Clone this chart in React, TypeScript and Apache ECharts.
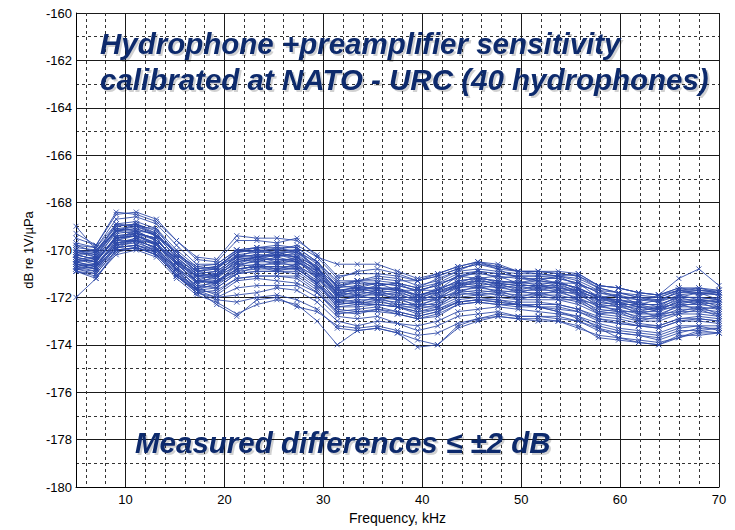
import React, { useEffect, useRef } from "react";
import * as echarts from "echarts";

// Frequency points (kHz)
const frequencies = [5, 7.03, 9.06, 11.09, 13.13, 15.16, 17.19, 19.22, 21.25, 23.28, 25.31, 27.34, 29.38, 31.41, 33.44, 35.47, 37.5, 39.53, 41.56, 43.59, 45.63, 47.66, 49.69, 51.72, 53.75, 55.78, 57.81, 59.84, 61.88, 63.91, 65.94, 67.97, 70];

// Sensitivity (dB re 1V/µPa) of each hydrophone
const h01 = [-169.7,-169.9,-168.7,-168.6,-168.9,-169.8,-170.6,-170.6,-170.0,-169.9,-169.8,-169.9,-170.5,-171.3,-171.3,-171.1,-171.2,-171.5,-171.3,-170.9,-170.8,-170.9,-171.0,-171.0,-171.1,-171.2,-171.6,-171.8,-171.9,-172.0,-171.7,-171.6,-171.8];
const h02 = [-169.9,-170.0,-169.0,-168.9,-169.2,-170.1,-170.8,-170.7,-170.1,-170.0,-170.0,-170.0,-170.6,-171.5,-171.4,-171.4,-171.5,-171.7,-171.5,-171.1,-171.0,-171.1,-171.2,-171.2,-171.2,-171.4,-171.8,-171.9,-172.1,-172.1,-171.8,-171.8,-171.9];
const h03 = [-170.2,-170.1,-169.2,-169.1,-169.4,-170.3,-171.0,-170.9,-170.3,-170.2,-170.3,-170.1,-170.8,-171.7,-171.6,-171.6,-171.6,-171.9,-171.7,-171.3,-171.2,-171.3,-171.4,-171.3,-171.4,-171.6,-172.0,-172.1,-172.3,-172.3,-172.0,-172.0,-172.1];
const h04 = [-170.3,-170.5,-169.4,-169.3,-169.5,-170.5,-171.2,-171.1,-170.5,-170.4,-170.4,-170.5,-171.0,-171.9,-171.8,-171.8,-171.9,-172.1,-171.9,-171.5,-171.4,-171.5,-171.6,-171.6,-171.6,-171.8,-172.2,-172.3,-172.5,-172.5,-172.2,-172.2,-172.3];
const h05 = [-170.6,-170.6,-169.7,-169.5,-169.8,-170.7,-171.4,-171.3,-170.7,-170.6,-170.6,-170.6,-171.2,-172.1,-172.0,-172.0,-172.1,-172.3,-172.1,-171.7,-171.6,-171.7,-171.8,-171.8,-171.8,-172.0,-172.4,-172.5,-172.7,-172.7,-172.4,-172.4,-172.5];
const h06 = [-170.7,-170.8,-169.8,-169.7,-170.0,-170.9,-171.6,-171.5,-170.9,-170.8,-170.8,-170.8,-171.4,-172.3,-172.2,-172.2,-172.3,-172.5,-172.3,-171.9,-171.8,-171.9,-172.0,-172.0,-172.0,-172.2,-172.6,-172.7,-172.9,-172.9,-172.6,-172.6,-172.7];
const h07 = [-170.1,-170.3,-169.3,-169.2,-169.6,-170.4,-171.1,-171.0,-170.4,-170.3,-170.2,-170.3,-170.9,-171.8,-171.7,-171.7,-171.8,-172.0,-171.8,-171.4,-171.3,-171.4,-171.5,-171.5,-171.5,-171.7,-172.1,-172.2,-172.4,-172.4,-172.1,-172.1,-172.2];
const h08 = [-170.4,-170.5,-169.5,-169.4,-169.7,-170.6,-171.3,-171.2,-170.6,-170.5,-170.5,-170.5,-171.1,-172.0,-171.9,-171.9,-172.0,-172.2,-172.0,-171.6,-171.5,-171.6,-171.7,-171.7,-171.7,-171.9,-172.3,-172.4,-172.6,-172.6,-172.3,-172.3,-172.4];
const h09 = [-170.0,-170.2,-169.1,-169.0,-169.3,-170.2,-170.9,-170.8,-170.2,-170.1,-170.1,-170.1,-170.7,-171.6,-171.5,-171.4,-171.5,-171.7,-171.5,-171.1,-170.9,-171.0,-171.1,-171.1,-171.2,-171.4,-171.8,-172.0,-172.1,-172.2,-171.9,-171.8,-171.9];
const h10 = [-170.6,-170.7,-169.7,-169.6,-169.9,-170.8,-171.5,-171.4,-170.8,-170.7,-170.7,-170.7,-171.3,-172.2,-172.1,-172.1,-172.2,-172.4,-172.2,-171.8,-171.7,-171.8,-171.9,-171.9,-171.9,-172.1,-172.5,-172.6,-172.8,-172.8,-172.5,-172.5,-172.6];
const h11 = [-169.8,-169.9,-168.9,-168.8,-169.1,-170.0,-170.7,-170.6,-170.0,-169.9,-169.9,-169.9,-170.5,-171.4,-171.3,-171.3,-171.4,-171.6,-171.4,-171.0,-170.9,-171.0,-171.1,-171.1,-171.1,-171.3,-171.7,-171.8,-172.0,-172.0,-171.7,-171.7,-171.8];
const h12 = [-170.4,-170.3,-169.5,-169.2,-169.6,-170.4,-171.3,-171.0,-170.6,-170.3,-170.5,-170.3,-171.1,-171.8,-171.9,-171.7,-172.0,-172.0,-172.0,-171.4,-171.5,-171.4,-171.7,-171.5,-171.7,-171.7,-172.3,-172.2,-172.6,-172.4,-172.3,-172.1,-172.4];
const h13 = [-170.5,-170.7,-169.6,-169.6,-169.7,-170.8,-171.3,-171.4,-170.6,-170.7,-170.5,-170.7,-171.1,-172.2,-171.9,-172.1,-172.0,-172.4,-172.0,-171.8,-171.5,-171.8,-171.7,-171.9,-171.7,-172.1,-172.3,-172.6,-172.6,-172.8,-172.3,-172.5,-172.4];
const h14 = [-170.0,-170.3,-169.1,-169.2,-169.3,-170.4,-170.9,-171.0,-170.2,-170.3,-170.1,-170.3,-170.7,-171.8,-171.5,-171.7,-171.6,-172.0,-171.6,-171.4,-171.1,-171.4,-171.3,-171.5,-171.3,-171.7,-171.9,-172.2,-172.2,-172.4,-171.9,-172.1,-172.0];
const h15 = [-169.3,-169.8,-168.5,-168.4,-168.7,-169.6,-170.4,-170.5,-169.6,-169.6,-169.7,-169.5,-170.3,-171.2,-170.9,-170.8,-171.0,-171.3,-171.1,-170.8,-170.6,-170.8,-170.9,-170.9,-170.9,-171.0,-171.5,-171.6,-171.8,-171.9,-171.6,-171.7,-171.7];
const h16 = [-172.0,-171.2,-170.1,-169.9,-170.2,-171.1,-171.7,-171.8,-171.2,-171.1,-171.1,-171.2,-171.8,-172.6,-172.7,-172.5,-172.7,-172.9,-172.7,-172.3,-172.2,-172.3,-172.3,-172.4,-172.4,-172.6,-172.9,-173.1,-173.2,-173.3,-173.0,-172.9,-173.0];
const h17 = [-170.8,-171.0,-170.0,-169.9,-170.1,-171.1,-171.7,-172.0,-171.9,-171.8,-171.6,-171.7,-172.2,-173.0,-173.2,-173.0,-173.1,-173.4,-173.2,-172.8,-172.7,-172.6,-172.8,-172.8,-172.8,-173.0,-173.3,-173.5,-173.6,-173.7,-173.4,-173.4,-173.5];
const h18 = [-170.9,-171.1,-170.2,-170.0,-170.3,-171.2,-171.9,-172.2,-172.7,-172.3,-172.1,-172.3,-173.0,-174.0,-173.4,-173.3,-173.5,-174.1,-174.0,-173.3,-173.0,-172.8,-172.9,-173.0,-173.0,-173.2,-173.7,-173.8,-173.9,-174.0,-173.7,-173.5,-173.5];
const h19 = [-170.9,-171.0,-170.0,-169.9,-170.2,-171.1,-171.8,-172.0,-171.6,-171.5,-171.5,-171.5,-172.0,-172.8,-172.9,-172.8,-173.1,-173.2,-173.0,-172.6,-172.5,-172.4,-172.5,-172.6,-172.7,-172.8,-173.1,-173.3,-173.4,-173.5,-173.2,-173.2,-173.2];
const h20 = [-170.7,-170.9,-169.9,-169.8,-170.1,-171.0,-171.6,-171.9,-171.3,-171.2,-171.3,-171.4,-171.8,-172.7,-172.6,-172.6,-172.7,-172.9,-172.8,-172.3,-172.2,-172.3,-172.4,-172.4,-172.5,-172.6,-173.0,-173.1,-173.2,-173.3,-173.0,-173.0,-173.1];
const h21 = [-170.2,-170.4,-169.5,-169.4,-169.7,-170.5,-171.1,-171.0,-170.4,-170.3,-170.2,-170.3,-170.9,-171.7,-171.7,-171.6,-171.7,-171.9,-171.8,-171.5,-171.3,-171.4,-171.5,-171.5,-171.6,-171.7,-172.1,-172.1,-172.2,-171.9,-171.2,-170.8,-171.5];
const h22 = [-170.1,-170.2,-169.2,-169.0,-169.4,-170.1,-170.8,-170.7,-170.1,-169.9,-170.0,-169.8,-170.3,-170.6,-170.6,-170.6,-170.9,-171.2,-171.0,-170.7,-170.5,-170.7,-170.9,-170.9,-171.0,-171.1,-171.6,-171.8,-172.0,-172.1,-171.8,-171.7,-171.8];
const h23 = [-170.0,-170.1,-169.0,-168.9,-169.3,-170.2,-170.9,-170.8,-170.1,-170.0,-170.1,-170.0,-170.8,-171.5,-171.3,-171.2,-171.3,-171.3,-171.0,-170.7,-170.5,-170.6,-170.9,-171.0,-171.1,-171.0,-171.5,-171.6,-171.8,-171.9,-171.7,-171.8,-171.8];
const h24 = [-170.8,-170.9,-169.9,-169.8,-170.1,-171.0,-171.7,-171.6,-171.0,-170.9,-170.9,-170.9,-171.5,-172.4,-172.3,-172.3,-172.4,-172.6,-172.4,-172.0,-171.9,-172.0,-172.1,-172.1,-172.1,-172.3,-172.7,-172.8,-173.0,-173.0,-172.7,-172.7,-172.8];
const h25 = [-170.1,-170.0,-169.2,-168.9,-169.4,-170.1,-170.9,-170.7,-170.3,-170.0,-170.2,-170.0,-170.8,-171.5,-171.6,-171.4,-171.7,-171.7,-171.7,-171.1,-171.2,-171.1,-171.4,-171.2,-171.4,-171.4,-172.0,-171.9,-172.3,-172.1,-172.0,-171.8,-172.1];
const h26 = [-170.5,-170.4,-169.6,-169.3,-169.8,-170.5,-171.4,-171.1,-170.7,-170.4,-170.6,-170.4,-171.2,-171.9,-172.0,-171.8,-172.1,-172.1,-172.1,-171.5,-171.6,-171.5,-171.8,-171.6,-171.8,-171.8,-172.4,-172.3,-172.7,-172.5,-172.4,-172.2,-172.5];
const h27 = [-170.6,-170.8,-169.8,-169.6,-169.9,-170.8,-171.5,-171.6,-171.0,-170.9,-170.9,-171.0,-171.6,-172.5,-172.6,-172.5,-172.6,-172.8,-172.6,-172.2,-172.1,-172.2,-172.3,-172.4,-172.6,-172.8,-173.3,-173.7,-173.8,-173.9,-173.7,-173.4,-173.3];
const h28 = [-170.5,-170.7,-169.7,-169.6,-169.9,-170.9,-171.7,-172.3,-172.8,-172.1,-172.0,-172.4,-172.6,-173.2,-173.3,-173.2,-173.4,-173.6,-173.5,-173.1,-172.9,-172.7,-172.8,-172.8,-172.9,-173.0,-173.4,-173.5,-173.6,-173.8,-173.5,-173.3,-173.3];
const h29 = [-169.0,-170.0,-169.2,-169.1,-169.4,-170.3,-171.0,-170.9,-170.3,-170.2,-170.2,-170.2,-170.8,-171.7,-171.6,-171.6,-171.7,-171.9,-171.7,-171.3,-171.2,-171.3,-171.4,-171.4,-171.4,-171.6,-172.0,-172.1,-172.3,-172.3,-172.0,-172.0,-172.1];
const h30 = [-170.2,-170.4,-169.2,-169.3,-169.5,-170.5,-171.0,-171.1,-170.3,-170.4,-170.2,-170.4,-170.8,-171.9,-171.6,-171.8,-171.7,-172.1,-171.7,-171.5,-171.2,-171.5,-171.4,-171.6,-171.4,-171.8,-172.0,-172.3,-172.3,-172.5,-172.0,-172.2,-172.1];
const h31 = [-170.7,-170.6,-169.8,-169.5,-170.0,-170.7,-171.6,-171.3,-170.9,-170.6,-170.8,-170.6,-171.4,-172.1,-172.2,-172.0,-172.3,-172.3,-172.3,-171.7,-171.8,-171.7,-172.0,-171.8,-172.0,-172.0,-172.6,-172.5,-172.9,-172.7,-172.6,-172.4,-172.7];
const h32 = [-170.3,-170.5,-169.4,-169.3,-169.6,-170.4,-171.1,-171.1,-170.5,-170.3,-170.4,-170.4,-171.0,-171.8,-171.7,-171.5,-171.4,-171.6,-171.2,-170.9,-170.5,-170.8,-171.2,-171.3,-171.4,-171.6,-172.0,-172.2,-172.4,-172.5,-172.2,-172.1,-172.2];
const h33 = [-170.4,-170.6,-169.6,-169.4,-169.8,-170.6,-171.3,-171.3,-170.8,-170.7,-170.8,-170.8,-171.4,-172.4,-172.4,-172.3,-172.4,-172.7,-172.5,-172.1,-172.0,-172.1,-172.2,-172.2,-172.3,-172.5,-172.8,-172.9,-173.1,-173.2,-172.9,-172.8,-172.9];
const h34 = [-170.6,-170.8,-169.9,-169.8,-170.0,-171.0,-171.8,-172.1,-172.2,-172.0,-171.9,-172.1,-172.5,-173.3,-173.4,-173.3,-173.5,-173.8,-174.0,-173.2,-172.9,-172.8,-172.9,-172.9,-173.0,-173.3,-173.6,-173.7,-173.9,-174.0,-173.6,-173.6,-173.5];
const h35 = [-169.8,-170.1,-168.9,-169.0,-169.1,-170.2,-170.7,-170.8,-170.0,-170.1,-169.9,-170.1,-170.5,-171.6,-171.3,-171.5,-171.4,-171.8,-171.4,-171.2,-170.9,-171.2,-171.1,-171.3,-171.1,-171.5,-171.7,-172.0,-172.0,-172.2,-171.7,-171.9,-171.8];
const h36 = [-170.8,-170.7,-169.9,-169.6,-170.1,-170.8,-171.7,-171.4,-171.0,-170.7,-170.9,-170.7,-171.5,-172.2,-172.3,-172.1,-172.4,-172.4,-172.4,-171.8,-171.9,-171.8,-172.1,-171.9,-172.1,-172.1,-172.7,-172.6,-173.0,-172.8,-172.7,-172.5,-172.8];
const h37 = [-169.5,-169.8,-168.4,-168.5,-168.8,-169.6,-170.3,-170.4,-169.4,-169.5,-169.5,-169.6,-170.2,-171.1,-171.0,-171.0,-171.1,-171.3,-171.1,-170.8,-170.6,-170.7,-170.9,-170.9,-171.0,-171.1,-171.5,-171.6,-171.8,-171.9,-171.6,-171.6,-171.7];
const h38 = [-170.9,-171.2,-170.0,-169.9,-170.2,-171.1,-171.8,-171.7,-171.2,-171.1,-171.1,-171.1,-171.7,-172.6,-172.5,-172.4,-172.6,-172.8,-172.6,-172.2,-172.1,-172.2,-172.3,-172.3,-172.3,-172.5,-172.9,-173.0,-173.2,-173.2,-172.9,-172.9,-173.0];
const h39 = [-170.2,-170.4,-169.5,-169.3,-169.5,-170.6,-171.1,-171.2,-170.4,-170.5,-170.3,-170.5,-170.9,-172.0,-171.7,-171.9,-171.8,-172.2,-171.8,-171.6,-171.3,-171.6,-171.5,-171.7,-171.5,-171.9,-172.1,-172.4,-172.4,-172.6,-172.1,-172.3,-172.2];
const h40 = [-170.4,-170.5,-169.5,-169.4,-169.8,-170.6,-171.3,-171.4,-170.8,-170.7,-170.7,-170.8,-171.4,-172.3,-172.2,-172.3,-172.4,-172.6,-172.5,-172.2,-172.1,-172.1,-172.3,-172.4,-172.6,-172.9,-173.2,-173.4,-173.5,-173.6,-173.3,-173.2,-173.4];

const hydrophones = [h01, h02, h03, h04, h05, h06, h07, h08, h09, h10, h11, h12, h13, h14, h15, h16, h17, h18, h19, h20, h21, h22, h23, h24, h25, h26, h27, h28, h29, h30, h31, h32, h33, h34, h35, h36, h37, h38, h39, h40];

// Axis ticks
const xMajorTicks = [10, 20, 30, 40, 50, 60, 70];
const xMinorTicks = [6, 8, 12, 14, 16, 18, 22, 24, 26, 28, 32, 34, 36, 38, 42, 44, 46, 48, 52, 54, 56, 58, 62, 64, 66, 68];

// Texts
const titleLine1 = "Hydrophone +preamplifier sensitivity";
const titleLine2 = "calibrated at NATO - URC (40 hydrophones)";
const noteText = "Measured differences \u2264 \u00b12 dB";
const xAxisTitle = "Frequency, kHz";
const yAxisTitle = "dB re 1V/\u00b5Pa";

const FONT = '"Liberation Sans", Arial, Helvetica, sans-serif';
const LINE_COLOR = "rgba(44, 72, 168, 0.86)";
const TEXT_COLOR = "#0d2a6c";

export default function App() {
  const ref = useRef<HTMLDivElement>(null);

  useEffect(() => {
    if (!ref.current) return;
    const chart = echarts.init(ref.current, undefined, { renderer: "svg" });

    const bigText = (text: string, left: number, top: number) => ({
      type: "text",
      left,
      top,
      z: 100,
      style: {
        text,
        font: `italic bold 29.5px ${FONT}`,
        fill: TEXT_COLOR,
        textShadowColor: "rgba(0,0,0,0.18)",
        textShadowOffsetX: 2,
        textShadowOffsetY: 2,
        textShadowBlur: 1,
      },
    });

    const option: any = {
      animation: false,
      backgroundColor: "#ffffff",
      grid: { left: 76, right: 16, top: 13, bottom: 43, containLabel: false },
      xAxis: [
        {
          type: "value",
          min: 5,
          max: 70,
          name: xAxisTitle,
          nameLocation: "middle",
          nameGap: 24,
          nameTextStyle: { color: "#000", fontSize: 14, fontFamily: FONT },
          axisLine: { show: true, onZero: false, lineStyle: { color: "#000", width: 1 } },
          axisTick: { show: false, customValues: xMajorTicks },
          axisLabel: { customValues: xMajorTicks, color: "#000", fontSize: 13, fontFamily: FONT, margin: 6 },
          splitLine: { show: true, lineStyle: { color: "#1a1a1a", width: 1 } },
        },
        {
          type: "value",
          min: 5,
          max: 70,
          position: "bottom",
          axisLine: { show: false },
          axisTick: { show: false, customValues: xMinorTicks },
          axisLabel: { show: false, customValues: xMinorTicks },
          splitLine: { show: true, lineStyle: { color: "#333", width: 1, type: [3, 3] } },
        },
      ],
      yAxis: {
        type: "value",
        min: -180,
        max: -160,
        interval: 2,
        name: yAxisTitle,
        nameLocation: "middle",
        nameGap: 40,
        nameTextStyle: { color: "#000", fontSize: 13, fontFamily: FONT },
        axisLine: { show: true, onZero: false, lineStyle: { color: "#000", width: 1 } },
        axisTick: { show: false },
        axisLabel: { color: "#000", fontSize: 13, fontFamily: FONT, margin: 4 },
        splitLine: { show: true, lineStyle: { color: "#1a1a1a", width: 1 } },
        minorTick: { show: false, splitNumber: 2 },
        minorSplitLine: { show: true, lineStyle: { color: "#333", width: 1, type: [3, 3] } },
      },
      series: hydrophones.map((vals, k) => ({
        type: "line",
        name: `H${k + 1}`,
        xAxisIndex: 0,
        data: frequencies.map((f, i) => [f, vals[i]]),
        symbol: "path://M0,0L10,10M10,0L0,10",
        symbolSize: 5,
        showSymbol: true,
        silent: true,
        lineStyle: { color: LINE_COLOR, width: 1 },
        itemStyle: { color: "transparent", borderColor: LINE_COLOR, borderWidth: 1 },
        z: 3,
      })),
      graphic: [
        bigText(titleLine1, 100, 28),
        bigText(titleLine2, 100, 64),
        bigText(noteText, 135, 427),
      ],
    };

    chart.setOption(option);
    return () => chart.dispose();
  }, []);

  return <div ref={ref} style={{ width: 735, height: 530, position: "absolute", left: 0, top: 0 }} />;
}
